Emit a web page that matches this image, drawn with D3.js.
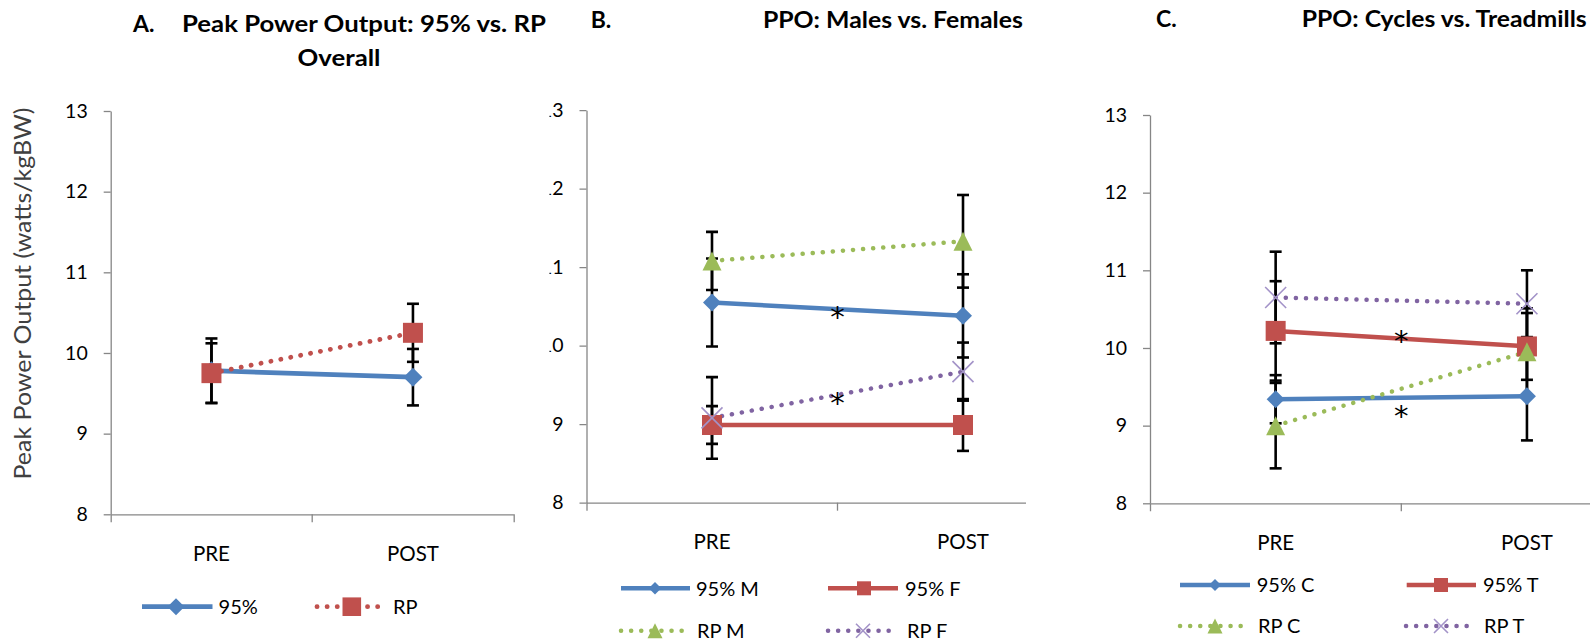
<!DOCTYPE html>
<html><head><meta charset="utf-8">
<script src="https://cdn.jsdelivr.net/npm/d3@7"></script>
<style>
html,body{margin:0;padding:0;background:#fff;overflow:hidden}
svg{display:block;font-family:Lato,"Open Sans",sans-serif}
</style></head><body>
<svg id="chart" width="1590" height="639"></svg>
<script>
// ---------- data ----------
const categories = ["PRE", "POST"];
const yTickValues = [8, 9, 10, 11, 12, 13];

// Panel A: Overall
const a95 = [9.78, 9.70];
const a95Err = [0.40, 0.35];
const aRP = [9.75, 10.25];
const aRPErr = [0.37, 0.36];

// Panel B: Males vs Females
const b95M = [10.55, 10.38];
const b95MErr = [0.56, 0.53];
const b95F = [8.99, 8.99];
const b95FErr = [0.24, 0.33];
const bRPM = [11.08, 11.33];
const bRPMErr = [0.37, 0.59];
const bRPF = [9.08, 9.67];
const bRPFErr = [0.52, 0.37];

// Panel C: Cycles vs Treadmills
const c95C = [9.34, 9.38];
const c95CErr = [0.31, 0.57];
const c95T = [10.22, 10.02];
const c95TErr = [0.64, 0.43];
const cRPC = [9.00, 9.95];
const cRPCErr = [0.55, 0.56];
const cRPT = [10.65, 10.57];
const cRPTErr = [0.59, 0.43];

// significance asterisks (y value at the midpoint between PRE and POST)
const starsB = [10.45, 9.35];
const starsC = [10.17, 9.21];

const titleA = ["A.", "Peak Power Output: 95% vs. RP", "Overall"];
const titleB = ["B.", "PPO: Males vs. Females"];
const titleC = ["C.", "PPO: Cycles vs. Treadmills"];
const yAxisLabel = "Peak Power Output (watts/kgBW)";

// ---------- styles ----------
const COL = {blue: "#4F81BD", red: "#C0504D", green: "#9BBB59", purple: "#8064A2"};
const AX = "#868686";
const FONT = "Lato, 'Open Sans', sans-serif";

const svg = d3.select("#chart");
const defs = svg.append("defs");

function markerPath(type, h) {
  switch (type) {
    case "diamond": return `M0,${-h}L${h},0L0,${h}L${-h},0Z`;
    case "square": return `M${-h},${-h}H${h}V${h}H${-h}Z`;
    case "triangle": return `M0,${-h}L${h},${h}L${-h},${h}Z`;
    case "x": return `M${-h},${-h}L${h},${h}M${h},${-h}L${-h},${h}`;
  }
}
function drawMarker(g, type, color, h, x, y) {
  const p = g.append("path").attr("d", markerPath(type, h))
    .attr("transform", `translate(${x},${y})`);
  if (type === "x") p.attr("fill", "none").attr("stroke", "#a393c8").attr("stroke-width", 1.6);
  else p.attr("fill", color);
}
function styleLine(sel, s, w) {
  sel.attr("fill", "none").attr("stroke", s.color).attr("stroke-width", w);
  if (s.dotted) sel.attr("stroke-dasharray", "0.1 10").attr("stroke-linecap", "round");
  else sel.attr("stroke-linecap", "butt");
}

function drawPanel(cfg) {
  const g = svg.append("g");
  if (cfg.clip) {
    defs.append("clipPath").attr("id", cfg.id).append("rect")
      .attr("x", cfg.clip[0]).attr("y", 0).attr("width", cfg.clip[1] - cfg.clip[0]).attr("height", 639);
    g.attr("clip-path", `url(#${cfg.id})`);
  }
  const x = d3.scaleBand().domain(categories).range([cfg.x0, cfg.x0 + 2 * cfg.band]).padding(0);
  const y = d3.scaleLinear().domain([8, 13]).range([cfg.yBot, cfg.yTop]);
  const cx = c => x(c) + x.bandwidth() / 2;

  // y axis
  const ya = g.append("g").attr("transform", `translate(${cfg.x0},0)`)
    .call(d3.axisLeft(y).tickValues(yTickValues).tickFormat(d3.format("d"))
      .tickSize(7).tickSizeOuter(0).tickPadding(16));
  ya.select(".domain").attr("stroke", AX).attr("stroke-width", 1.3);
  ya.selectAll(".tick line").attr("stroke", AX).attr("stroke-width", 1.3);
  ya.selectAll(".tick text").attr("font-size", 19.5).attr("font-family", FONT).attr("fill", "#000");

  // x axis
  const xa = g.append("g").attr("transform", `translate(0,${cfg.yBot})`)
    .call(d3.axisBottom(x).tickSize(0).tickSizeOuter(8));
  xa.select(".domain").attr("stroke", AX).attr("stroke-width", 1.3);
  xa.selectAll(".tick text").attr("y", 39).attr("dy", "0.36em")
    .attr("font-size", 20.5).attr("font-family", FONT).attr("fill", "#000");
  g.append("line").attr("x1", cfg.x0 + x.step()).attr("x2", cfg.x0 + x.step())
    .attr("y1", cfg.yBot).attr("y2", cfg.yBot + 8).attr("stroke", AX).attr("stroke-width", 1.3);

  // lines
  const line = d3.line().x((d, i) => cx(categories[i])).y(d => y(d));
  cfg.series.forEach(s => {
    g.append("path").datum(s.values).attr("d", line).call(sel => styleLine(sel, s, cfg.lw));
  });
  // error bars
  cfg.series.forEach(s => {
    s.values.forEach((v, i) => {
      const xx = cx(categories[i]);
      const lo = y(v - s.errs[i]), hi = y(v + s.errs[i]);
      g.append("line").attr("x1", xx).attr("x2", xx).attr("y1", lo).attr("y2", hi)
        .attr("stroke", "#000").attr("stroke-width", 2.6);
      [lo, hi].forEach(yy => g.append("line").attr("x1", xx - 6).attr("x2", xx + 6)
        .attr("y1", yy).attr("y2", yy).attr("stroke", "#000").attr("stroke-width", 2.6));
    });
  });
  // markers
  cfg.series.forEach(s => {
    s.values.forEach((v, i) => drawMarker(g, s.marker, s.color, cfg.mh[s.marker], cx(categories[i]), y(v)));
  });
  // asterisks
  (cfg.stars || []).forEach(v => {
    g.append("text").attr("x", cfg.x0 + x.step()).attr("y", y(v) + 16.5)
      .attr("text-anchor", "middle").attr("font-size", 29)
      .attr("font-family", "'DejaVu Sans', sans-serif").attr("fill", "#000").text("*");
  });
  // legend
  cfg.legend.forEach(L => {
    const s = cfg.series[L.i];
    g.append("line").attr("x1", L.x0).attr("x2", L.x1).attr("y1", L.y).attr("y2", L.y)
      .call(sel => styleLine(sel, s, cfg.lw));
    drawMarker(g, s.marker, s.color, cfg.lmh[s.marker], L.mx, L.y);
    g.append("text").attr("x", L.tx).attr("y", L.y).attr("dy", "0.36em")
      .attr("font-size", 20).attr("font-family", FONT).attr("fill", "#000").text(s.name);
  });
  // titles
  cfg.titles.forEach(t => {
    const tt = g.append("text").attr("x", t.x).attr("y", t.y).attr("text-anchor", t.anchor || "start")
      .attr("font-size", 23).attr("font-weight", "bold").attr("font-family", FONT).attr("fill", "#000").text(t.text);
    if (t.len) tt.attr("textLength", t.len).attr("lengthAdjust", "spacingAndGlyphs");
  });
  return g;
}

// ---------- panel A ----------
drawPanel({
  id: "clipA", x0: 110.7, band: 201.5, yTop: 111, yBot: 514.3, lw: 4.8,
  mh: {diamond: 9.5, square: 10, triangle: 9.5, x: 10.5},
  lmh: {diamond: 8.5, square: 9.3, triangle: 9, x: 9},
  series: [
    {name: "95%", values: a95, errs: a95Err, color: COL.blue, dotted: false, marker: "diamond"},
    {name: "RP", values: aRP, errs: aRPErr, color: COL.red, dotted: true, marker: "square"}
  ],
  legend: [
    {i: 0, x0: 142, x1: 212.5, mx: 176, tx: 218.6, y: 606.7},
    {i: 1, x0: 317, x1: 382, mx: 351.8, tx: 393, y: 606.7}
  ],
  titles: [
    {text: titleA[0], x: 133, y: 32.3},
    {text: titleA[1], x: 182, y: 32.3, len: 364},
    {text: titleA[2], x: 339, y: 65.7, anchor: "middle", len: 83}
  ]
});
svg.append("text").attr("transform", "translate(31,293.5) rotate(-90)")
  .attr("text-anchor", "middle").attr("font-size", 23).attr("font-family", FONT)
  .attr("textLength", 372).attr("lengthAdjust", "spacingAndGlyphs")
  .attr("fill", "#404040").text(yAxisLabel);

// ---------- panel B ----------
drawPanel({
  id: "clipB", clip: [549.5, 1026], x0: 586.5, band: 251, yTop: 110.2, yBot: 502.7, lw: 4.5,
  mh: {diamond: 9, square: 10, triangle: 9.5, x: 10.5},
  lmh: {diamond: 6.3, square: 7, triangle: 7.5, x: 7},
  series: [
    {name: "95% M", values: b95M, errs: b95MErr, color: COL.blue, dotted: false, marker: "diamond"},
    {name: "95% F", values: b95F, errs: b95FErr, color: COL.red, dotted: false, marker: "square"},
    {name: "RP M", values: bRPM, errs: bRPMErr, color: COL.green, dotted: true, marker: "triangle"},
    {name: "RP F", values: bRPF, errs: bRPFErr, color: COL.purple, dotted: true, marker: "x"}
  ],
  legend: [
    {i: 0, x0: 621, x1: 690, mx: 655, tx: 696, y: 588.3},
    {i: 1, x0: 828, x1: 898, mx: 864, tx: 905, y: 588.3},
    {i: 2, x0: 621, x1: 690, mx: 655, tx: 697, y: 630.7},
    {i: 3, x0: 828, x1: 894, mx: 863, tx: 907, y: 630.7}
  ],
  stars: starsB,
  titles: [
    {text: titleB[0], x: 590.7, y: 28.3},
    {text: titleB[1], x: 762.9, y: 28.3, len: 260}
  ]
});

// ---------- panel C ----------
drawPanel({
  id: "clipC", clip: [1026, 1590], x0: 1150, band: 251.3, yTop: 115, yBot: 503.3, lw: 4.5,
  mh: {diamond: 9, square: 10, triangle: 9.5, x: 10.5},
  lmh: {diamond: 6, square: 7, triangle: 7.5, x: 7},
  series: [
    {name: "95% C", values: c95C, errs: c95CErr, color: COL.blue, dotted: false, marker: "diamond"},
    {name: "95% T", values: c95T, errs: c95TErr, color: COL.red, dotted: false, marker: "square"},
    {name: "RP C", values: cRPC, errs: cRPCErr, color: COL.green, dotted: true, marker: "triangle"},
    {name: "RP T", values: cRPT, errs: cRPTErr, color: COL.purple, dotted: true, marker: "x"}
  ],
  legend: [
    {i: 0, x0: 1180, x1: 1250, mx: 1215, tx: 1256.7, y: 585},
    {i: 1, x0: 1406.7, x1: 1476, mx: 1441, tx: 1483, y: 585},
    {i: 2, x0: 1180, x1: 1246, mx: 1215, tx: 1258, y: 626},
    {i: 3, x0: 1406, x1: 1472, mx: 1441, tx: 1484, y: 626}
  ],
  stars: starsC,
  titles: [
    {text: titleC[0], x: 1156, y: 26.7},
    {text: titleC[1], x: 1301.7, y: 26.7, len: 285}
  ]
});
</script>
</body></html>
